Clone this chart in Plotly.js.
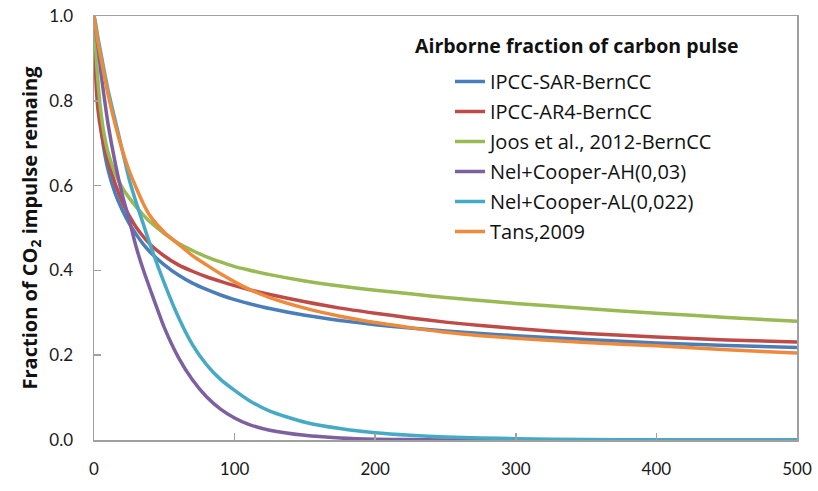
<!DOCTYPE html>
<html>
<head>
<meta charset="utf-8">
<script src="https://cdn.plot.ly/plotly-3.0.1.min.js"></script>
<style>html,body{margin:0;padding:0;background:#fff;}#chart{width:818px;height:491px;}</style>
</head>
<body>
<div id="chart"></div>
<script>
// Years after the pulse
const years = [0,1,2,3,5,7,10,15,20,25,30,35,40,50,60,70,80,90,100,110,125,150,175,200,225,250,275,300,350,400,450,500];

// Fraction of CO2 impulse remaining
const ipccSar = [1.0,0.920,0.858,0.808,0.736,0.687,0.637,0.582,0.543,0.511,0.485,0.462,0.443,0.413,0.389,0.370,0.355,0.342,0.331,0.322,0.310,0.294,0.282,0.272,0.264,0.257,0.251,0.246,0.237,0.229,0.223,0.218];
const ipccAr4 = [1.0,0.875,0.811,0.774,0.729,0.698,0.658,0.605,0.562,0.529,0.502,0.480,0.461,0.434,0.413,0.398,0.385,0.374,0.364,0.355,0.343,0.326,0.311,0.299,0.288,0.278,0.270,0.263,0.251,0.243,0.236,0.231];
const joos2012 = [1.0,0.935,0.881,0.837,0.771,0.725,0.678,0.629,0.596,0.571,0.550,0.531,0.514,0.487,0.464,0.447,0.432,0.420,0.409,0.401,0.390,0.375,0.363,0.353,0.345,0.336,0.329,0.322,0.310,0.299,0.289,0.280];
const nelCooperAH = [1.0,0.975,0.950,0.925,0.865,0.815,0.745,0.655,0.580,0.520,0.455,0.402,0.355,0.265,0.195,0.142,0.102,0.073,0.052,0.037,0.023,0.011,0.005,0.002,0.001,0.0,0.0,0.0,0.0,0.0,0.0,0.0];
const nelCooperAL = [1.0,0.985,0.965,0.945,0.910,0.875,0.825,0.755,0.685,0.615,0.560,0.510,0.460,0.370,0.290,0.225,0.178,0.143,0.117,0.094,0.068,0.042,0.027,0.017,0.011,0.007,0.005,0.003,0.001,0.0,0.0,0.0];
const tans2009 = [1.0,0.975,0.955,0.935,0.900,0.865,0.815,0.745,0.685,0.635,0.595,0.558,0.528,0.490,0.462,0.435,0.413,0.392,0.373,0.356,0.336,0.311,0.292,0.277,0.265,0.254,0.246,0.240,0.230,0.222,0.213,0.205];

const seriesNames = ["IPCC-SAR-BernCC","IPCC-AR4-BernCC","Joos et al., 2012-BernCC","Nel+Cooper-AH(0,03)","Nel+Cooper-AL(0,022)","Tans,2009"];
const seriesValues = [ipccSar, ipccAr4, joos2012, nelCooperAH, nelCooperAL, tans2009];
const seriesColors = ["#4A7EBB","#BE4B48","#98B954","#7D60A0","#46AAC5","#EE8A3C"];

const legendTitle = "Airborne fraction of carbon pulse";
const yTitle = "Fraction of CO<sub>2</sub> impulse remaing";

const traces = seriesValues.map((vals, i) => ({
  type: "scatter",
  mode: "lines",
  x: years,
  y: vals,
  name: seriesNames[i],
  legendgroup: "g" + i,
  line: {color: seriesColors[i], width: 3.5, shape: "spline", smoothing: 0.6},
  hoverinfo: "skip"
}));

const axisGrey = "#A0A0A0";
const layout = {
  width: 818,
  height: 491,
  margin: {l: 94, r: 21, t: 16, b: 51},
  paper_bgcolor: "#ffffff",
  plot_bgcolor: "#ffffff",
  font: {family: "Lato, 'Open Sans', sans-serif", size: 17, color: "#1a1a1a"},
  showlegend: true,
  xaxis: {
    range: [0, 500], tick0: 0, dtick: 100,
    ticks: "inside", ticklen: 7, tickwidth: 1.5, tickcolor: axisGrey,
    showline: true, linecolor: axisGrey, linewidth: 1.5, mirror: true,
    showgrid: false, zeroline: false,
    ticklabelstandoff: 13,
    tickfont: {size: 17}
  },
  yaxis: {
    range: [0, 1], tick0: 0, dtick: 0.2, tickformat: ".1f",
    ticks: "inside", ticklen: 7, tickwidth: 1.5, tickcolor: axisGrey,
    showline: true, linecolor: axisGrey, linewidth: 1.5, mirror: true,
    showgrid: false, zeroline: false,
    ticklabelstandoff: 16,
    tickfont: {size: 17},
    title: {text: "<b>" + yTitle + "</b>", font: {family: "'Open Sans', sans-serif", size: 20, color: "#111"}, standoff: 6}
  },
  legend: {
    x: (450 - 94) / 703, y: (440 - 62) / 424,
    xanchor: "left", yanchor: "top",
    bgcolor: "rgba(0,0,0,0)",
    font: {family: "'Open Sans', sans-serif", size: 20, color: "#111"},
    tracegroupgap: 1,
    traceorder: "grouped"
  },
  annotations: [{
    text: "<b>" + legendTitle + "</b>",
    xref: "paper", yref: "paper",
    x: (413 - 94) / 703, y: (440 - 45) / 424,
    xanchor: "left", yanchor: "middle",
    showarrow: false,
    font: {family: "'Open Sans', sans-serif", size: 19.5, color: "#111"}
  }]
};

Plotly.newPlot("chart", traces, layout, {staticPlot: true, displayModeBar: false});
</script>
</body>
</html>
